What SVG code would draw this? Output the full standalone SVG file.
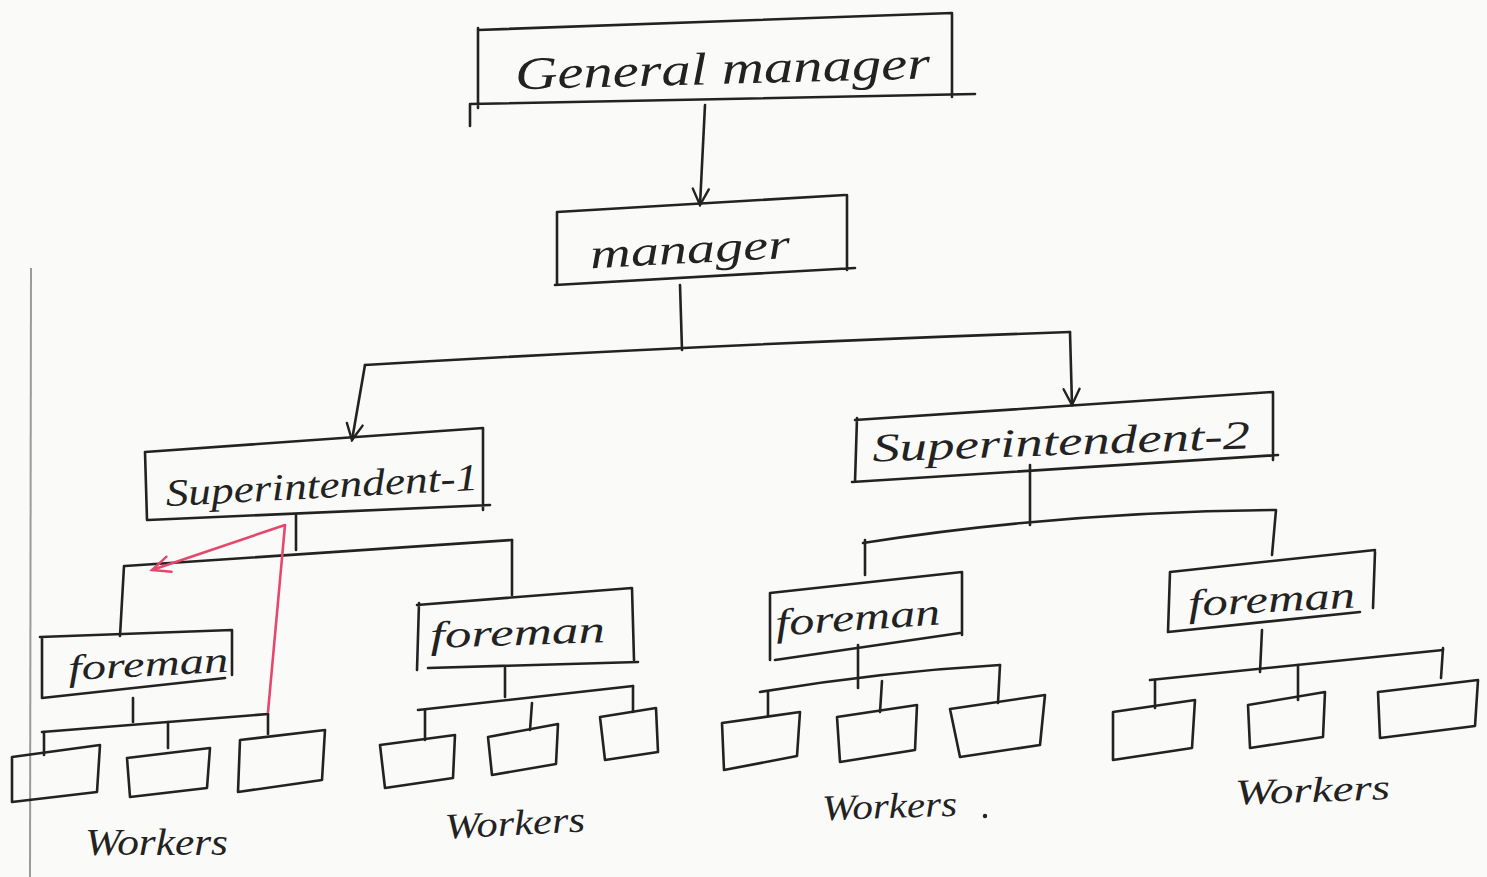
<svg xmlns="http://www.w3.org/2000/svg" width="1487" height="877" viewBox="0 0 1487 877">
  <defs>
    <marker id="vee" viewBox="0 0 20 20" refX="18" refY="10" markerWidth="20" markerHeight="20" markerUnits="userSpaceOnUse" orient="auto">
      <path d="M2,2 L18,10 L2,18" fill="none" stroke="#222" stroke-width="2.4" stroke-linecap="round"/>
    </marker>
    <marker id="vee-red" viewBox="0 0 24 24" refX="21" refY="12" markerWidth="24" markerHeight="24" markerUnits="userSpaceOnUse" orient="auto">
      <path d="M3,4 L21,12 L3,20" fill="none" stroke="#e5476d" stroke-width="2.4" stroke-linecap="round"/>
    </marker>
    <style>
      .ink { fill: none; stroke: #222; stroke-width: 2.6; stroke-linecap: round; stroke-linejoin: round; }
      .red { fill: none; stroke: #e5476d; stroke-width: 2.6; stroke-linecap: round; stroke-linejoin: round; }
      .margin { fill: none; stroke: #9a9a9a; stroke-width: 2; }
      .lbl { font-family: "Liberation Serif", "DejaVu Serif", serif; font-style: italic; fill: #222; }
    </style>
  </defs>

  <!-- paper -->
  <rect width="1487" height="877" fill="#fafaf8"/>
  <path class="margin" d="M31,268 L30,877"/>

  <!-- top level -->
  <g id="general-manager">
    <path class="ink" d="M478,30 L952,13 M478,28 L478,108 M952,14 L952,97 M470,104 L975,94 M470,104 L470,126"/>
    <text class="lbl" x="515" y="84" font-size="46" textLength="415" lengthAdjust="spacingAndGlyphs" transform="rotate(-1.5 715 70)">General manager</text>
  </g>

  <g id="manager">
    <path class="ink" d="M557,212 L845,195 M557,212 L557,285 M847,195 L847,270 M555,285 L855,268"/>
    <text class="lbl" x="590" y="263" font-size="42" textLength="200" lengthAdjust="spacingAndGlyphs" transform="rotate(-3 690 250)">manager</text>
  </g>

  <g id="superintendent-1">
    <path class="ink" d="M145,452 L483,428 M145,452 L147,520 M483,428 L483,510 M148,520 L490,505"/>
    <text class="lbl" x="165" y="498" font-size="38" textLength="313" lengthAdjust="spacingAndGlyphs" transform="rotate(-3 320 480)">Superintendent-1</text>
  </g>

  <g id="superintendent-2">
    <path class="ink" d="M855,420 L1273,392 M857,418 L855,482 M1273,392 L1273,460 M852,482 L1278,455"/>
    <text class="lbl" x="872" y="455" font-size="40" textLength="378" lengthAdjust="spacingAndGlyphs" transform="rotate(-2 1060 440)">Superintendent-2</text>
  </g>

  <g id="foreman-1">
    <path class="ink" d="M40,637 L232,630 M42,637 L42,698 M232,630 L232,675 M42,698 L225,678"/>
    <text class="lbl" x="68" y="676" font-size="36" textLength="160" lengthAdjust="spacingAndGlyphs" transform="rotate(-3 148 662)">foreman</text>
  </g>

  <g id="foreman-2">
    <path class="ink" d="M417,605 L632,588 M419,603 L417,670 M632,588 L634,660 M428,668 L638,662"/>
    <text class="lbl" x="430" y="645" font-size="38" textLength="175" lengthAdjust="spacingAndGlyphs" transform="rotate(-2 518 632)">foreman</text>
  </g>

  <g id="foreman-3">
    <path class="ink" d="M770,593 L962,572 M770,593 L770,660 M962,572 L962,635 M775,660 L960,633"/>
    <text class="lbl" x="775" y="630" font-size="38" textLength="165" lengthAdjust="spacingAndGlyphs" transform="rotate(-4 858 615)">foreman</text>
  </g>

  <g id="foreman-4">
    <path class="ink" d="M1170,572 L1375,550 M1170,572 L1168,632 M1375,552 L1373,608 M1168,632 L1360,612"/>
    <text class="lbl" x="1188" y="612" font-size="38" textLength="167" lengthAdjust="spacingAndGlyphs" transform="rotate(-3 1270 598)">foreman</text>
  </g>

  <!-- worker boxes -->
  <g id="workers-1">
    <path class="ink" d="M12,757 L100,745 L97,792 L12,802 Z"/>
    <path class="ink" d="M127,758 L210,748 L207,788 L130,797 Z"/>
    <path class="ink" d="M240,740 L325,730 L322,780 L238,792 Z"/>
    <text class="lbl" x="85" y="855" font-size="38" textLength="143" lengthAdjust="spacingAndGlyphs">Workers</text>
  </g>
  <g id="workers-2">
    <path class="ink" d="M380,745 L455,735 L453,778 L385,788 Z"/>
    <path class="ink" d="M488,737 L558,724 L556,764 L492,775 Z"/>
    <path class="ink" d="M600,717 L656,708 L658,752 L605,760 Z"/>
    <text class="lbl" x="445" y="835" font-size="36" textLength="140" lengthAdjust="spacingAndGlyphs" transform="rotate(-3 515 825)">Workers</text>
  </g>
  <g id="workers-3">
    <path class="ink" d="M722,723 L800,712 L797,756 L724,770 Z"/>
    <path class="ink" d="M837,717 L917,705 L915,750 L840,762 Z"/>
    <path class="ink" d="M950,709 L1045,695 L1040,745 L960,757 Z"/>
    <text class="lbl" x="822" y="818" font-size="36" textLength="135" lengthAdjust="spacingAndGlyphs" transform="rotate(-2 890 808)">Workers</text>
    <circle cx="985" cy="816" r="2.2" fill="#222"/>
  </g>
  <g id="workers-4">
    <path class="ink" d="M1113,712 L1195,700 L1192,748 L1113,760 Z"/>
    <path class="ink" d="M1248,705 L1325,692 L1323,737 L1250,748 Z"/>
    <path class="ink" d="M1378,692 L1478,680 L1475,726 L1380,738 Z"/>
    <text class="lbl" x="1235" y="802" font-size="36" textLength="155" lengthAdjust="spacingAndGlyphs" transform="rotate(-2 1310 790)">Workers</text>
  </g>

  <g id="connectors">
    <!-- general manager to manager -->
    <path class="ink" d="M705,105 L700,205" marker-end="url(#vee)"/>
    <!-- manager to superintendents -->
    <path class="ink" d="M680,285 L682,350"/>
    <path class="ink" d="M365,365 Q700,345 1070,332"/>
    <path class="ink" d="M365,365 L352,440" marker-end="url(#vee)"/>
    <path class="ink" d="M1070,332 L1072,405" marker-end="url(#vee)"/>

    <!-- superintendent-1 to foremen -->
    <path class="ink" d="M296,515 L296,550"/>
    <path class="ink" d="M125,566 L512,540"/>
    <path class="ink" d="M124,566 L120,636"/>
    <path class="ink" d="M512,540 L512,595"/>

    <!-- superintendent-2 to foremen -->
    <path class="ink" d="M1030,465 L1030,525"/>
    <path class="ink" d="M863,543 Q1060,512 1275,510"/>
    <path class="ink" d="M865,540 L865,575"/>
    <path class="ink" d="M1276,510 L1272,555"/>

    <!-- foreman-1 to workers -->
    <path class="ink" d="M133,698 L133,722"/>
    <path class="ink" d="M42,732 L268,714"/>
    <path class="ink" d="M44,732 L44,755"/>
    <path class="ink" d="M168,722 L168,748"/>
    <path class="ink" d="M268,714 L268,734"/>

    <!-- foreman-2 to workers -->
    <path class="ink" d="M505,668 L505,697"/>
    <path class="ink" d="M418,710 L633,686"/>
    <path class="ink" d="M425,710 L425,740"/>
    <path class="ink" d="M532,703 L530,730"/>
    <path class="ink" d="M633,686 L633,712"/>

    <!-- foreman-3 to workers -->
    <path class="ink" d="M858,645 L858,688"/>
    <path class="ink" d="M760,692 Q880,672 1000,665"/>
    <path class="ink" d="M768,692 L768,716"/>
    <path class="ink" d="M882,681 L880,712"/>
    <path class="ink" d="M1000,665 L998,703"/>

    <!-- foreman-4 to workers -->
    <path class="ink" d="M1262,630 L1260,672"/>
    <path class="ink" d="M1150,680 L1443,650"/>
    <path class="ink" d="M1155,680 L1155,708"/>
    <path class="ink" d="M1298,665 L1298,700"/>
    <path class="ink" d="M1443,648 L1441,678"/>

    <!-- red correction stroke -->
    <path class="red" d="M268,712 L285,525 L152,570" marker-end="url(#vee-red)"/>
  </g>
</svg>
